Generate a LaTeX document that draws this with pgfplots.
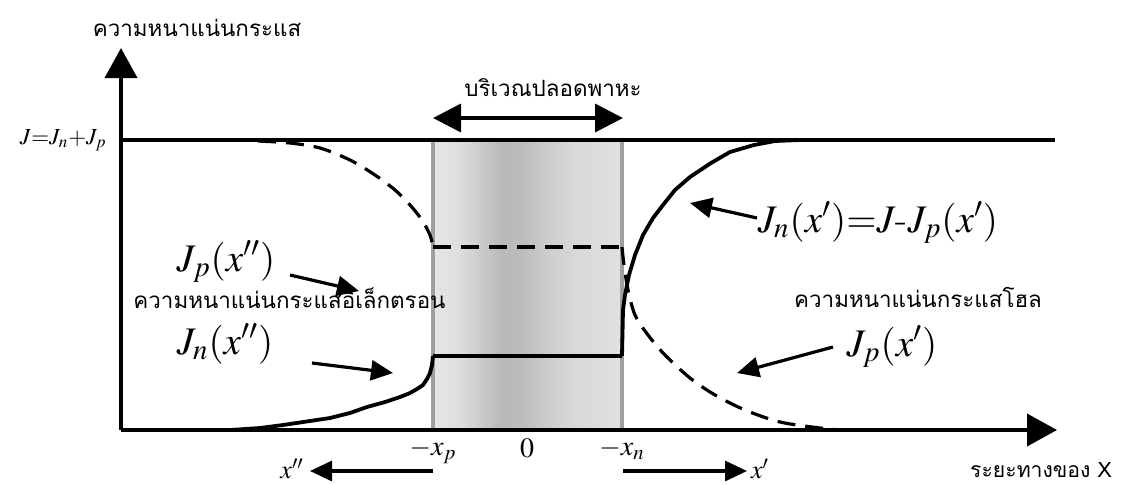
\documentclass[border=0pt]{standalone}
\usepackage{mathptmx}
\usepackage[no-math]{fontspec}
\newfontfamily\thai[Script=Thai]{Loma}
\usepackage{pgfplots}
\pgfplotsset{compat=1.18}
\usetikzlibrary{arrows.meta}

\newcommand\thaitext{\thai\fontsize{11.2}{13}\selectfont}
\newcommand\bigmath{\fontsize{19.5}{23}\selectfont}

% shading of the depletion region: darker band near the junction
\pgfdeclarehorizontalshading{depletion}{100bp}{
  color(0bp)=(gray!20); color(25bp)=(gray!20); color(32bp)=(gray!26);
  color(38bp)=(gray!42); color(43bp)=(gray!55); color(49bp)=(gray!52);
  color(55bp)=(gray!40); color(63bp)=(gray!30); color(75bp)=(gray!24);
  color(100bp)=(gray!24)}

\tikzset{
  note/.style={line width=1.6pt, -{Triangle[width=10pt,length=11pt]}},
  jdash/.style={black, line width=1.6pt, dash pattern=on 9pt off 5pt},
  jsolid/.style={black, line width=1.9pt},
  lbl/.style={inner sep=0pt},
}

\begin{document}
\begin{tikzpicture}
\begin{axis}[
  scale only axis, width=468pt, height=191pt,
  xmin=121, xmax=1057, ymin=0, ymax=382,
  axis x line=bottom, axis y line=left,
  axis line style={line width=2pt, -{Triangle[width=16pt,length=15pt]}},
  axis on top,
  xtick={433,527,622}, xticklabels={$-x_p$,$0$,$-x_n$},
  ytick=\empty,
  major tick length=0pt,
  xticklabel style={font=\fontsize{14}{16}\selectfont, yshift=-1pt},
  clip=false,
]
% depletion region
\addplot[draw=none, shading=depletion]
  coordinates {(433,0) (433,290) (622,290) (622,0)} -- cycle;
\addplot[gray!75, line width=2.2pt] coordinates {(433,0) (433,290)};
\addplot[gray!75, line width=2.2pt] coordinates {(622,0) (622,290)};

% total current density J = Jn + Jp
\addplot[jsolid, line width=1.8pt] coordinates {(121,290) (1055,290)};

% hole current density Jp (dashed)
\addplot[jdash, smooth] coordinates {
  (258,289) (290,287) (320,282) (350,270) (375,255) (395,240)
  (410,225) (422,210) (430,195) (433,183)};
\addplot[jdash] coordinates {(433,183) (622,183)};
\addplot[jdash, smooth] coordinates {
  (622,183) (624,165) (628,140) (635,115) (648,95) (665,75) (690,52)
  (715,35) (745,20) (780,8) (820,2) (840,0)};

% electron current density Jn (solid)
\addplot[jsolid] coordinates {
  (230,0) (260,2) (283,5) (310,9) (330,12) (350,17) (367,23) (385,28)
  (400,33) (410,37) (417,41) (423,45) (427,51) (430,57) (432,65) (433,74)};
\addplot[jsolid] coordinates {(433,74) (622,74)};
\addplot[jsolid] coordinates {
  (622,74) (623,120) (625,135) (629,155) (635,175) (643,195) (653,212)
  (663,225) (675,240) (690,253) (711,267) (730,278) (754,285) (775,289)
  (800,290)};

% annotations
\draw[line width=1.8pt, {Triangle[width=14pt,length=14pt]}-{Triangle[width=14pt,length=14pt]}]
  (axis cs:433,312) -- (axis cs:623,312);
\draw[note] (axis cs:290,155) -- (axis cs:359,139);
\draw[note] (axis cs:312,67) -- (axis cs:393,57);
\draw[note] (axis cs:757,212) -- (axis cs:690,227);
\draw[note] (axis cs:833,83) -- (axis cs:737,57);
\draw[note] (axis cs:433,-41) -- (axis cs:310,-41);
\draw[note] (axis cs:623,-41) -- (axis cs:747,-41);

\node[lbl, font=\thaitext] at (axis cs:197,402) {ความหนาแน่นกระแส};
\node[lbl, anchor=east, font=\fontsize{11.5}{13}\selectfont] at (axis cs:107,290) {$J{=}J_n{+}J_p$};
\node[lbl, font=\thaitext] at (axis cs:553,342) {บริเวณปลอดพาหะ};
\node[lbl, font=\bigmath] at (axis cs:226,168) {$J_p(x'')$};
\node[lbl, anchor=west, font=\thaitext] at (axis cs:133,132) {ความหนาแน่นกระแสอิเล็กตรอน};
\node[lbl, font=\bigmath] at (axis cs:225,86) {$J_n(x'')$};
\node[lbl, font=\bigmath] at (axis cs:878,207) {$J_n(x'){=}J\mbox{-}J_p(x')$};
\node[lbl, font=\thaitext] at (axis cs:918,133) {ความหนาแน่นกระแสโฮล};
\node[lbl, font=\bigmath] at (axis cs:892,83) {$J_p(x')$};
\node[lbl, font=\fontsize{13}{15}\selectfont] at (axis cs:292,-39) {$x''$};
\node[lbl, font=\fontsize{13}{15}\selectfont] at (axis cs:760,-39) {$x'$};
\node[lbl, font=\thai\fontsize{10.6}{12}\selectfont] at (axis cs:1041,-40) {ระยะทางของ X};

\coordinate (bbA) at (axis cs:0,-54);
\coordinate (bbB) at (axis cs:1140,430);
\end{axis}
\pgfresetboundingbox
\path[use as bounding box] (bbA) rectangle (bbB);
\end{tikzpicture}
\end{document}
